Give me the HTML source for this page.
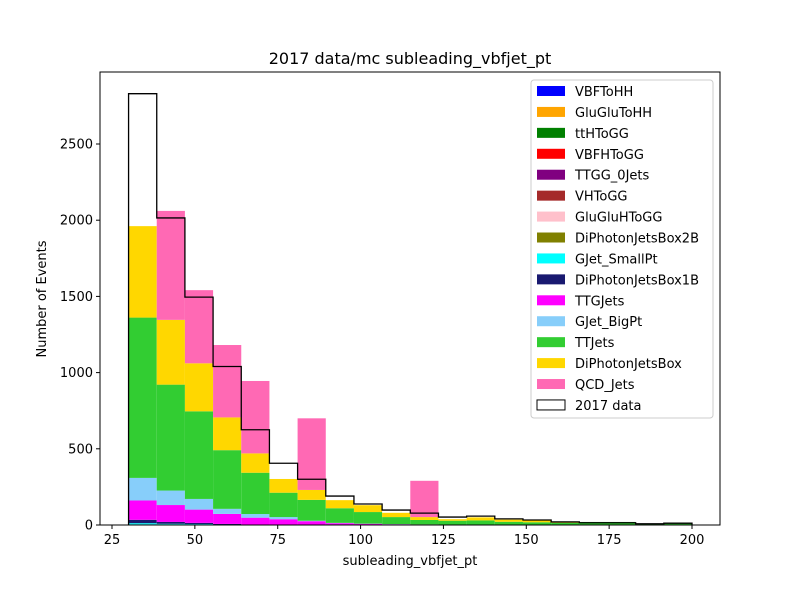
<!DOCTYPE html>
<html><head><meta charset="utf-8"><style>body{margin:0;background:#fff}svg text{font-family:"DejaVu Sans","Liberation Sans",sans-serif}</style></head>
<body>
<svg id="chart" width="800" height="600" xmlns="http://www.w3.org/2000/svg"></svg>
<script>
const binEdges=[30,38.5,47,55.5,64,72.5,81,89.5,98,106.5,115,123.5,132,140.5,149,157.5,166,174.5,183,191.5,200];
const seriesNames=["VBFToHH","GluGluToHH","ttHToGG","VBFHToGG","TTGG_0Jets","VHToGG","GluGluHToGG","DiPhotonJetsBox2B","GJet_SmallPt","DiPhotonJetsBox1B","TTGJets","GJet_BigPt","TTJets","DiPhotonJetsBox","QCD_Jets"];
const seriesColors=["blue","orange","green","red","purple","brown","pink","olive","cyan","midnightblue","magenta","lightskyblue","limegreen","gold","hotpink"];
const z=[0,0,0,0,0,0,0,0,0,0,0,0,0,0,0,0,0,0,0,0];
const vbfToHH=z, gluGluToHH=z, ttHToGG=[1,1,1,0,0,0,0,0,0,0,0,0,0,0,0,0,0,0,0,0], vbfHToGG=z, ttgg0Jets=z;
const vhToGG=[3,3,2,1,0,0,0,0,0,0,0,0,0,0,0,0,0,0,0,0];
const gluGluHToGG=z, diPhoton2B=z;
const gJetSmallPt=[8,4,3,2,1,1,1,0,0,0,0,0,0,0,0,0,0,0,0,0];
const diPhoton1B=[22,12,8,4,2,1,1,0,0,0,0,0,0,0,0,0,0,0,0,0];
const ttgJets=[127,111,87,66,45,36,23,12,8,5,4,3,3,2,2,1,1,1,0,0];
const gJetBigPt=[148,95,70,33,24,14,3,2,1,1,0,0,0,0,0,0,0,0,0,0];
const ttJets=[1052,695,575,385,271,160,137,96,76,46,29,25,27,19,16,13,19,19,8,16];
const diPhotonBox=[600,425,315,215,127,90,65,53,45,28,19,10,20,14,12,6,0,0,0,0];
const qcdJets=[0,715,480,475,475,0,470,0,0,0,238,0,0,0,0,0,0,0,0,0];
const dataCounts=[2830,2015,1495,1040,625,405,300,190,138,98,78,52,58,40,33,20,15,15,8,12];
const xTicks=[25,50,75,100,125,150,175,200];
const yTicks=[0,500,1000,1500,2000,2500];
const series=[vbfToHH,gluGluToHH,ttHToGG,vbfHToGG,ttgg0Jets,vhToGG,gluGluHToGG,diPhoton2B,gJetSmallPt,diPhoton1B,ttgJets,gJetBigPt,ttJets,diPhotonBox,qcdJets];

const L=100,R=720,T=72,B=525;
const X=v=>112+(v-25)*(580/175);
const Y=v=>B-v*(381/2500);
const svg=document.getElementById('chart');
const NS="http://www.w3.org/2000/svg";
function mk(tag,attrs,parent){const e=document.createElementNS(NS,tag);for(const k in attrs)e.setAttribute(k,attrs[k]);(parent||svg).appendChild(e);return e;}

const bars=mk('g',{});


const cum=binEdges.slice(0,-1).map(()=>0);
series.forEach((s,si)=>{
  for(let i=0;i<cum.length;i++){
    const v=s[i]; if(v<=0) continue;
    const r=mk('rect',{x:X(binEdges[i]),y:Y(cum[i]+v),width:X(binEdges[i+1])-X(binEdges[i]),height:Y(cum[i])-Y(cum[i]+v),fill:seriesColors[si]},bars);
    
    
    cum[i]+=v;
  }
});
let d=`M${X(binEdges[0])},${Y(0)}`;
for(let i=0;i<dataCounts.length;i++){d+=` L${X(binEdges[i])},${Y(dataCounts[i])} L${X(binEdges[i+1])},${Y(dataCounts[i])}`;}
d+=` L${X(binEdges[binEdges.length-1])},${Y(0)}`;
const dl=mk('path',{d:d,fill:'none',stroke:'#000','stroke-width':1.3});



const ax=mk('rect',{x:L,y:T,width:R-L,height:B-T,fill:'none',stroke:'#000','stroke-width':1});


xTicks.forEach(t=>{mk('line',{x1:X(t),x2:X(t),y1:B,y2:B+4,stroke:'#000'});
 const tx=mk('text',{x:X(t),y:B+19,'font-size':13,'text-anchor':'middle'});tx.textContent=t;
 
 });
yTicks.forEach(t=>{mk('line',{x1:L-4,x2:L,y1:Y(t),y2:Y(t),stroke:'#000'});
 const tx=mk('text',{x:L-7,y:Y(t)+4.5,'font-size':13,'text-anchor':'end'});tx.textContent=t;
 
 });
const ttl=mk('text',{x:410,y:64,'font-size':16,'text-anchor':'middle'});ttl.textContent='2017 data/mc subleading_vbfjet_pt';


const xl=mk('text',{x:410,y:565,'font-size':13,'text-anchor':'middle'});xl.textContent='subleading_vbfjet_pt';


const yl=mk('text',{x:46,y:299,'font-size':13,'text-anchor':'middle',transform:'rotate(-90 46 299)'});yl.textContent='Number of Events';



const lg=mk('g',{});


mk('rect',{x:531,y:80,width:182,height:338,rx:3,fill:'#fff','fill-opacity':0.8,stroke:'#ccc'},lg);
const names=seriesNames.concat(['2017 data']);
names.forEach((n,i)=>{
  const y=91+i*20.93;
  const last=i===names.length-1;
  mk('rect',{x:537,y:y-5,width:28,height:10,fill:last?'#fff':seriesColors[i],stroke:last?'#000':'none'},lg);
  const t=mk('text',{x:575,y:y+5,'font-size':13},lg);t.textContent=n;
  
  
});
</script>
</body></html>
